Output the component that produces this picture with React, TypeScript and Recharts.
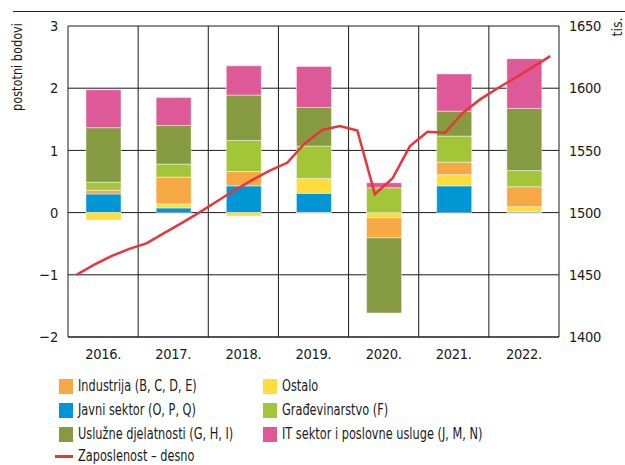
import {
  ComposedChart, Bar, Line, XAxis, YAxis, CartesianGrid, ReferenceLine,
} from 'recharts';

document.body.style.margin = '0';

const FONT = '"Liberation Sans Narrow", "DejaVu Sans Condensed", Arial, sans-serif';

// categories
const years = ['2016.', '2017.', '2018.', '2019.', '2020.', '2021.', '2022.'];

// contributions, percentage points
const javni = [0.30, 0.075, 0.43, 0.31, 0, 0.43, 0.01];
const ostalo = [-0.12, 0.065, -0.055, 0.24, -0.085, 0.18, 0.085];
const industrija = [0.06, 0.43, 0.23, -0.01, -0.32, 0.20, 0.32];
const gradevinarstvo = [0.13, 0.21, 0.50, 0.52, 0.40, 0.42, 0.26];
const usluzne = [0.875, 0.62, 0.73, 0.62, -1.21, 0.40, 1.00];
const itSektor = [0.61, 0.45, 0.47, 0.66, 0.08, 0.60, 0.80];

// employment, thousands, quarterly (right axis)
const zaposlenost = [
  1450.2, 1458.1, 1465.2, 1470.8,
  1475.5, 1483.7, 1491.8, 1500.2,
  1509.1, 1518.0, 1526.1, 1533.7,
  1540.0, 1555.6, 1566.4, 1569.6,
  1566.0, 1514.8, 1527.4, 1553.5,
  1565.0, 1564.2, 1580.0, 1591.0,
  1600.0, 1608.3, 1616.9, 1625.8,
];

const leftTicks = [-2, -1, 0, 1, 2, 3];
const rightTicks = [1400, 1450, 1500, 1550, 1600, 1650];
const boundaries = [1, 2, 3, 4, 5, 6];

const COLORS = {
  javni: '#0096d6',
  ostalo: '#fddc3c',
  industrija: '#f5a843',
  gradevinarstvo: '#a3c639',
  usluzne: '#869b41',
  it: '#de5997',
  line: '#e8343d',
};

const data = years.map((year, i) => ({
  year,
  javni: javni[i],
  ostalo: ostalo[i],
  industrija: industrija[i],
  gradevinarstvo: gradevinarstvo[i],
  usluzne: usluzne[i],
  it: itSektor[i],
}));

// quarter midpoints within each year's band
const lineData = zaposlenost.map((v, i) => ({
  t: Math.floor(i / 4) + ((i % 4) + 0.5) / 4,
  emp: v,
}));

const series = [
  { key: 'javni', color: COLORS.javni },
  { key: 'ostalo', color: COLORS.ostalo },
  { key: 'industrija', color: COLORS.industrija },
  { key: 'gradevinarstvo', color: COLORS.gradevinarstvo },
  { key: 'usluzne', color: COLORS.usluzne },
  { key: 'it', color: COLORS.it },
];

const legendCol1 = [
  { label: 'Industrija (B, C, D, E)', color: COLORS.industrija },
  { label: 'Javni sektor (O, P, Q)', color: COLORS.javni },
  { label: 'Uslužne djelatnosti (G, H, I)', color: COLORS.usluzne },
];
const legendCol2 = [
  { label: 'Ostalo', color: COLORS.ostalo },
  { label: 'Građevinarstvo (F)', color: COLORS.gradevinarstvo },
  { label: 'IT sektor i poslovne usluge (J, M, N)', color: COLORS.it },
];

const fmtLeft = (v: number) => (v < 0 ? `\u2212${Math.abs(v)}` : `${v}`);

const tickStyle = { fill: '#1a1a1a', fontSize: 14.5, fontFamily: FONT, letterSpacing: -0.3 };

const labelText = {
  display: 'inline-block',
  fontSize: 15,
  lineHeight: '15px',
  fontFamily: FONT,
  color: '#1a1a1a',
  whiteSpace: 'nowrap' as const,
  transform: 'scaleX(0.84)',
  transformOrigin: 'left center',
};

function LegendItem({ label, color, x, y }: { label: string; color: string; x: number; y: number }) {
  return (
    <div style={{ position: 'absolute', left: x, top: y, display: 'flex', alignItems: 'center', height: 15 }}>
      <div style={{ width: 14, height: 15, background: color, flex: 'none' }} />
      <span style={{ ...labelText, marginLeft: 5 }}>{label}</span>
    </div>
  );
}

export default function App() {
  return (
    <div style={{ position: 'relative', width: 625, height: 465, background: '#fff', fontFamily: FONT, overflow: 'hidden' }}>
      <div style={{ position: 'absolute', left: 13, top: 11, width: 612, borderTop: '1px solid #222' }} />
      <div
        style={{
          position: 'absolute', left: 17, top: 67, transform: 'translate(-50%, -50%) rotate(-90deg) scaleX(0.9)',
          fontSize: 14, lineHeight: '14px', whiteSpace: 'nowrap', color: '#1a1a1a',
        }}
      >
        postotni bodovi
      </div>
      <div
        style={{
          position: 'absolute', left: 617, top: 27, transform: 'translate(-50%, -50%) rotate(-90deg)',
          fontSize: 14, lineHeight: '14px', whiteSpace: 'nowrap', color: '#1a1a1a',
        }}
      >
        tis.
      </div>
      <ComposedChart
        width={625}
        height={465}
        data={data}
        stackOffset="sign"
        margin={{ top: 26, right: 16, bottom: 98, left: 28 }}
        style={{ position: 'absolute', left: 0, top: 0 }}
      >
        <CartesianGrid yAxisId="left" vertical={false} stroke="#1a1a1a" strokeWidth={1} />
        <XAxis
          dataKey="year"
          tick={tickStyle}
          tickLine={false}
          tickSize={0}
          tickMargin={12}
          axisLine={{ stroke: '#1a1a1a' }}
          height={30}
        />
        <XAxis xAxisId="q" type="number" dataKey="t" domain={[0, 7]} hide allowDataOverflow />
        <YAxis
          yAxisId="left"
          domain={[-2, 3]}
          ticks={leftTicks}
          tickFormatter={fmtLeft}
          tick={tickStyle}
          tickLine={false}
          tickSize={0}
          tickMargin={10}
          axisLine={{ stroke: '#1a1a1a' }}
          width={40}
          allowDataOverflow
        />
        <YAxis
          yAxisId="right"
          orientation="right"
          domain={[1400, 1650]}
          ticks={rightTicks}
          tick={{ ...tickStyle, textAnchor: 'start' }}
          tickLine={false}
          tickSize={0}
          tickMargin={10}
          axisLine={{ stroke: '#1a1a1a' }}
          width={50}
          allowDataOverflow
        />
        {boundaries.map((b) => (
          <ReferenceLine key={b} x={b} xAxisId="q" yAxisId="left" stroke="#1a1a1a" strokeWidth={1} />
        ))}
        {series.map((s) => (
          <Bar
            key={s.key}
            dataKey={s.key}
            stackId="a"
            yAxisId="left"
            fill={s.color}
            stroke="#ffffff"
            strokeOpacity={0.45}
            strokeWidth={1}
            barSize={35}
            isAnimationActive={false}
          />
        ))}
        <Line
          data={lineData}
          dataKey="emp"
          xAxisId="q"
          yAxisId="right"
          type="linear"
          stroke={COLORS.line}
          strokeWidth={2.5}
          dot={false}
          isAnimationActive={false}
        />
      </ComposedChart>
      {legendCol1.map((l, i) => (
        <LegendItem key={l.label} label={l.label} color={l.color} x={59} y={379 + i * 24} />
      ))}
      {legendCol2.map((l, i) => (
        <LegendItem key={l.label} label={l.label} color={l.color} x={263} y={379 + i * 24} />
      ))}
      <div style={{ position: 'absolute', left: 55, top: 449, display: 'flex', alignItems: 'center', height: 15 }}>
        <div style={{ width: 18, height: 0, borderTop: `3px solid ${COLORS.line}`, flex: 'none' }} />
        <span style={{ ...labelText, marginLeft: 5 }}>Zaposlenost – desno</span>
      </div>
    </div>
  );
}
